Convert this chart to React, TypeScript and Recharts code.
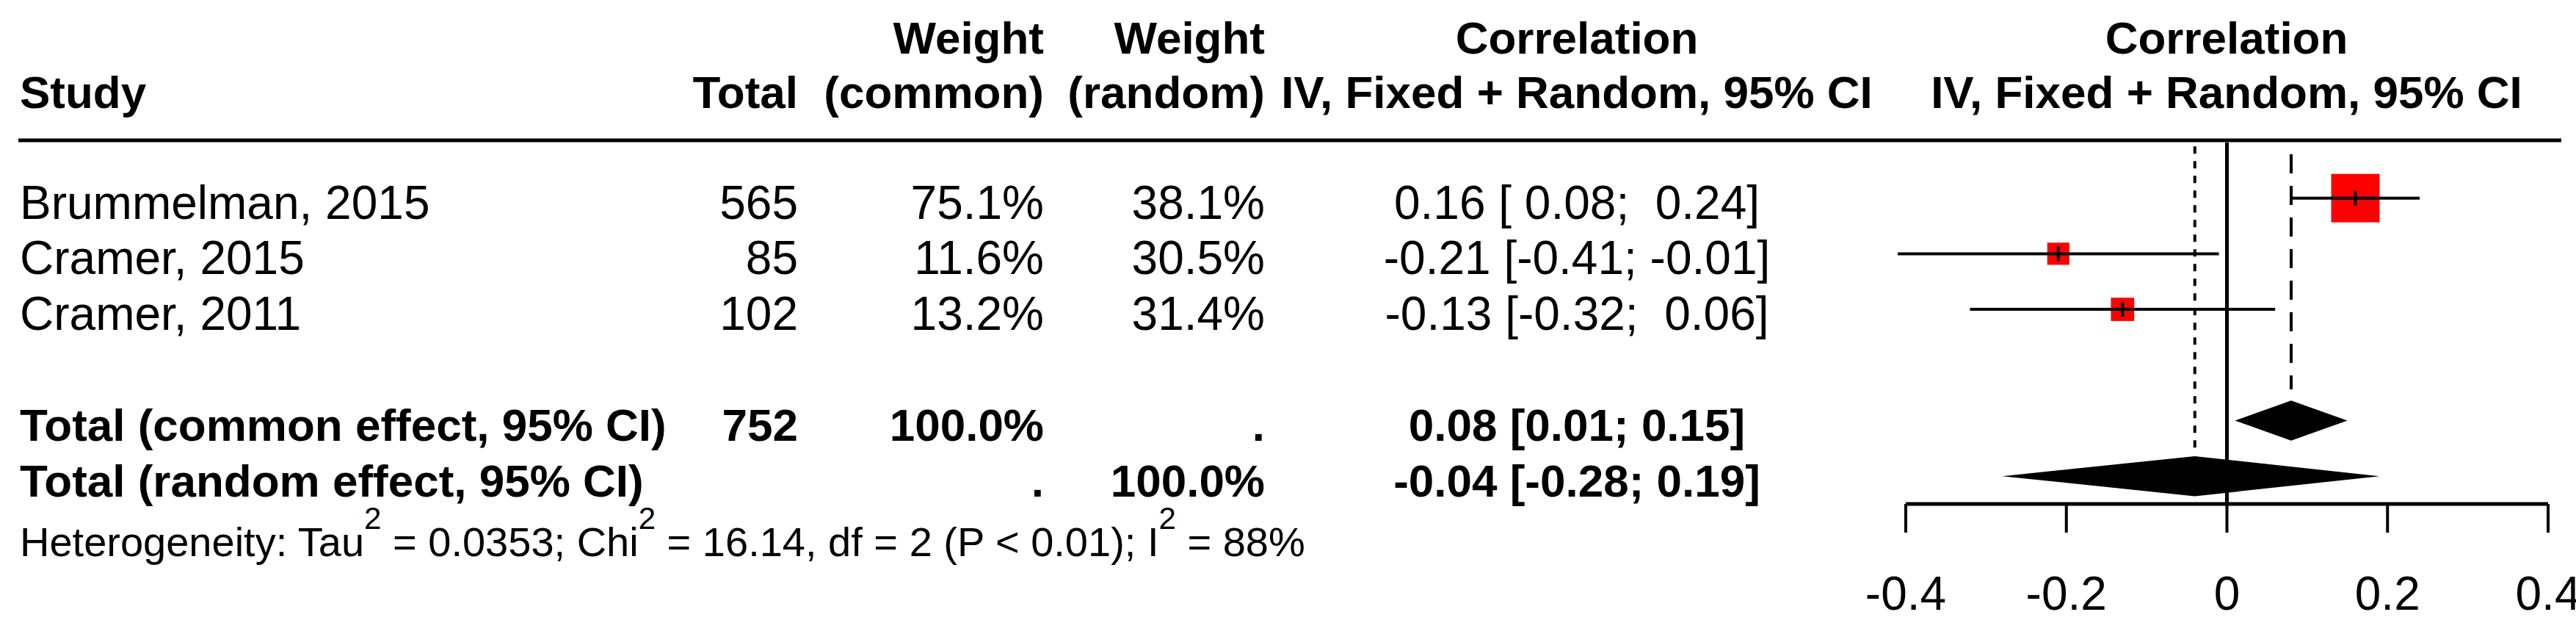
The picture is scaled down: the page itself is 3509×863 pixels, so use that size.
import {
  ComposedChart,
  Customized,
  ReferenceArea,
  ReferenceLine,
  Scatter,
  XAxis,
  YAxis,
} from "recharts";

// study rows
const studies = ["Brummelman, 2015", "Cramer, 2015", "Cramer, 2011"];
const totals = [565, 85, 102];
const weightCommon = [75.1, 11.6, 13.2];
const weightRandom = [38.1, 30.5, 31.4];
const estimates = [0.16, -0.21, -0.13];
const lower = [0.08, -0.41, -0.32];
const upper = [0.24, -0.01, 0.06];

// pooled rows
const pooledLabels = ["Total (common effect, 95% CI)", "Total (random effect, 95% CI)"];
const pooledTotals = ["752", ""];
const pooledWeightCommon = ["100.0%", "."];
const pooledWeightRandom = [".", "100.0%"];
const pooledEstimates = [0.08, -0.04];
const pooledLower = [0.01, -0.28];
const pooledUpper = [0.15, 0.19];

const xTicks = [-0.4, -0.2, 0, 0.2, 0.4];

const FONT = "'Liberation Sans', Arial, sans-serif";
const FS = 64;
const FS_BOLD = 62;
const W = 3509;
const H = 863;

// column anchors (px)
const COL_STUDY = 27;
const COL_TOTAL = 1087;
const COL_WC = 1422;
const COL_WR = 1723;
const COL_CI = 2148;
const PLOT_CENTER = 3033;

const pad = (v: number) => v.toFixed(2).padStart(5, " ");
const ciText = (e: number, lo: number, hi: number, padded: boolean) =>
  padded
    ? `${e.toFixed(2)} [${pad(lo)}; ${pad(hi)}]`
    : `${e.toFixed(2)} [${lo.toFixed(2)}; ${hi.toFixed(2)}]`;

const boxSize = (w: number) => 7 + 6.8 * Math.sqrt(w);

const textRows = [
  ...studies.map((s, i) => ({
    x: 0,
    y: i,
    label: s,
    total: String(totals[i]),
    wc: `${weightCommon[i].toFixed(1)}%`,
    wr: `${weightRandom[i].toFixed(1)}%`,
    ci: ciText(estimates[i], lower[i], upper[i], true),
    bold: false,
  })),
  ...pooledLabels.map((s, i) => ({
    x: 0,
    y: 4 + i,
    label: s,
    total: pooledTotals[i],
    wc: pooledWeightCommon[i],
    wr: pooledWeightRandom[i],
    ci: ciText(pooledEstimates[i], pooledLower[i], pooledUpper[i], false),
    bold: true,
  })),
];

const boxData = studies.map((_, i) => ({ x: estimates[i], y: i, w: weightCommon[i] }));
const tickData = studies.map((_, i) => ({ x: estimates[i], y: i }));

const txt = { fontFamily: FONT, fontSize: FS, fill: "#000", whiteSpace: "pre" } as const;
const bold = { ...txt, fontSize: FS_BOLD, fontWeight: "bold" } as const;

function RowText(props: any) {
  const { cy, payload } = props;
  const y = cy + 28;
  const st = payload.bold ? bold : txt;
  return (
    <g>
      <text x={COL_STUDY} y={y} style={st}>{payload.label}</text>
      <text x={COL_TOTAL} y={y} style={st} textAnchor="end">{payload.total}</text>
      <text x={COL_WC} y={y} style={st} textAnchor="end">{payload.wc}</text>
      <text x={COL_WR} y={y} style={st} textAnchor="end">{payload.wr}</text>
      <text x={COL_CI} y={y} style={st} textAnchor="middle">{payload.ci}</text>
    </g>
  );
}

function Box(props: any) {
  const { cx, cy, payload } = props;
  const s = boxSize(payload.w);
  return <rect x={cx - s / 2} y={cy - s / 2} width={s} height={s} fill="#FF0000" />;
}

function EstTick(props: any) {
  const { cx, cy } = props;
  return <line x1={cx} x2={cx} y1={cy - 10} y2={cy + 10} stroke="#000" strokeWidth={4} />;
}

function diamondShape(est: number, lo: number, hi: number) {
  return (props: any) => {
    const { x, y, width, height } = props;
    const ex = x + ((est - lo) / (hi - lo)) * width;
    const my = y + height / 2;
    return <polygon points={`${x},${my} ${ex},${y} ${x + width},${my} ${ex},${y + height}`} fill="#000" />;
  };
}

function AxisTick(props: any) {
  const { x, y, payload } = props;
  return (
    <text x={x} y={y + 47} textAnchor="middle" style={txt}>
      {String(payload.value)}
    </text>
  );
}

function HeaderLayer() {
  const het = { fontFamily: FONT, fontSize: 56, fill: "#000", whiteSpace: "pre" } as const;
  return (
    <g>
      <text x={COL_STUDY} y={147} style={bold}>Study</text>
      <text x={COL_TOTAL} y={147} style={bold} textAnchor="end">Total</text>
      <text x={COL_WC} y={73} style={bold} textAnchor="end">Weight</text>
      <text x={COL_WC} y={147} style={bold} textAnchor="end">(common)</text>
      <text x={COL_WR} y={73} style={bold} textAnchor="end">Weight</text>
      <text x={COL_WR} y={147} style={bold} textAnchor="end">(random)</text>
      <text x={COL_CI} y={73} style={bold} textAnchor="middle">Correlation</text>
      <text x={COL_CI} y={147} style={bold} textAnchor="middle">IV, Fixed + Random, 95% CI</text>
      <text x={PLOT_CENTER} y={73} style={bold} textAnchor="middle">Correlation</text>
      <text x={PLOT_CENTER} y={147} style={bold} textAnchor="middle">IV, Fixed + Random, 95% CI</text>
      <line x1={25} x2={3489} y1={191} y2={191} stroke="#000" strokeWidth={5} />
      <text x={COL_STUDY} y={757} style={het}>
        Heterogeneity: Tau
        <tspan dy={-37} fontSize={42}>2</tspan>
        <tspan dy={37}> = 0.0353; Chi</tspan>
        <tspan dy={-37} fontSize={42}>2</tspan>
        <tspan dy={37}> = 16.14, df = 2 (P &lt; 0.01); I</tspan>
        <tspan dy={-37} fontSize={42}>2</tspan>
        <tspan dy={37}> = 88%</tspan>
      </text>
    </g>
  );
}

export default function App() {
  return (
    <div style={{ width: W, height: H, background: "#fff" }}>
      <style>{"body{margin:0}"}</style>
      <ComposedChart
        width={W}
        height={H}
        margin={{ top: 194, right: 38, bottom: 0, left: 2596 }}
      >
        <XAxis
          type="number"
          dataKey="x"
          domain={[-0.4, 0.4]}
          ticks={xTicks}
          height={177}
          axisLine={{ stroke: "#000", strokeWidth: 5 }}
          tickLine={{ stroke: "#000", strokeWidth: 4 }}
          tickSize={39}
          tickMargin={58}
          tick={<AxisTick />}
          interval={0}
        />
        <YAxis type="number" dataKey="y" domain={[-1, 5.5]} reversed hide />
        <Customized component={<HeaderLayer />} />

        <ReferenceLine x={0} stroke="#000" strokeWidth={5} />
        <ReferenceLine
          segment={[{ x: pooledEstimates[1], y: -0.93 }, { x: pooledEstimates[1], y: 4.49 }]}
          stroke="#000"
          strokeWidth={4}
          strokeDasharray="10 10"
        />
        <ReferenceLine
          segment={[{ x: pooledEstimates[0], y: -0.79 }, { x: pooledEstimates[0], y: 3.44 }]}
          stroke="#000"
          strokeWidth={4}
          strokeDasharray="26 17"
        />

        <Scatter data={boxData} shape={<Box />} isAnimationActive={false} />

        {/* CI whiskers drawn over the boxes */}
        {studies.map((s, i) => (
          <ReferenceLine
            key={s}
            segment={[{ x: lower[i], y: i }, { x: upper[i], y: i }]}
            ifOverflow="visible"
            stroke="#000"
            strokeWidth={4}
            {...({ zIndex: 650 } as any)}
          />
        ))}

        <Scatter data={tickData} shape={<EstTick />} isAnimationActive={false} />

        {pooledEstimates.map((e, i) => (
          <ReferenceArea
            key={i}
            x1={pooledLower[i]}
            x2={pooledUpper[i]}
            y1={4 + i - 0.36}
            y2={4 + i + 0.36}
            shape={diamondShape(e, pooledLower[i], pooledUpper[i])}
          />
        ))}

        <Scatter data={textRows} shape={<RowText />} isAnimationActive={false} />
      </ComposedChart>
    </div>
  );
}
